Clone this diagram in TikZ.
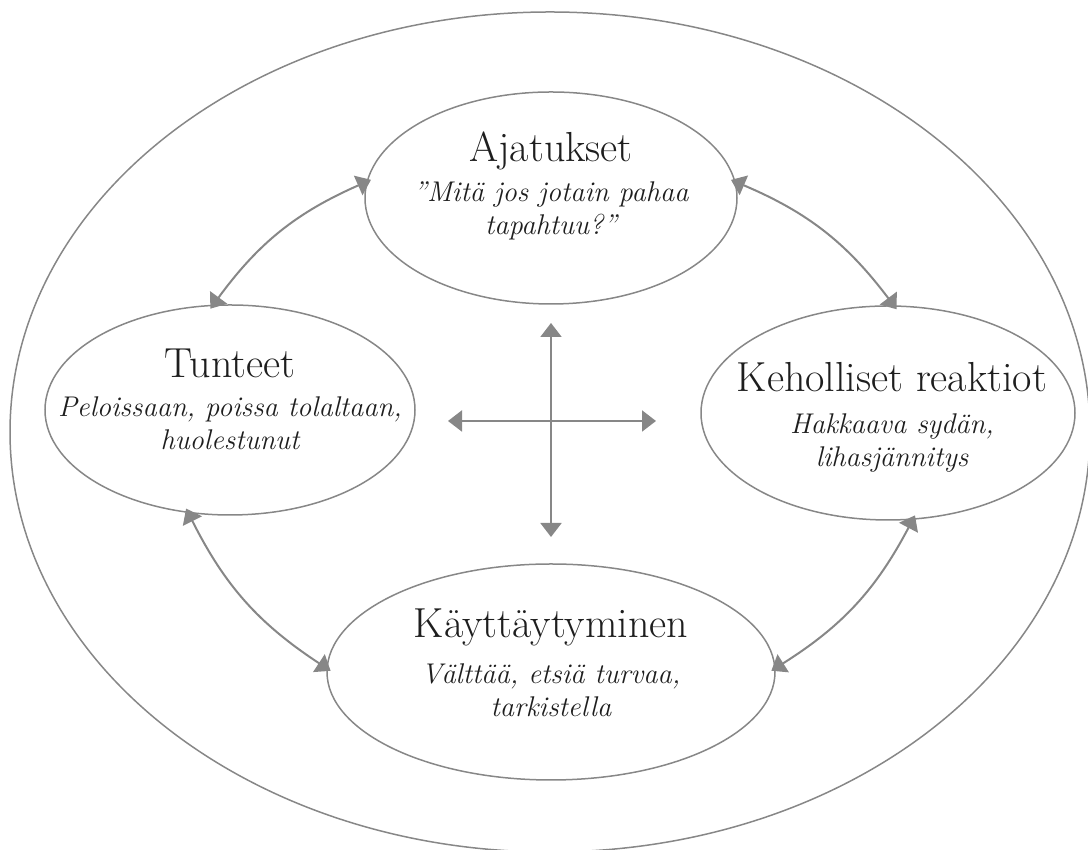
\documentclass[tikz,border=0pt]{standalone}
\usetikzlibrary{arrows.meta,shapes.geometric,positioning}
\definecolor{linegray}{HTML}{878787}
\definecolor{inkdark}{HTML}{1E1E1E}

\tikzset{
  bubble/.style={ellipse,draw=linegray,line width=1.5pt,inner sep=0pt},
  heading/.style={text=inkdark,font=\fontsize{42}{46}\selectfont,anchor=base,inner sep=0pt},
  example/.style={text=inkdark,font=\fontsize{28.5}{33}\selectfont\itshape,align=center,anchor=base,inner sep=0pt},
  link/.style={draw=linegray,line width=2pt,shorten <=-5pt,shorten >=-5pt,
    {Triangle[length=14pt,width=21pt]}-{Triangle[length=14pt,width=21pt]}}
}

\begin{document}
\begin{tikzpicture}[x=1pt,y=1pt]
\useasboundingbox (0,0) rectangle (1088,850);
% ellipses
\node[bubble,minimum width=1080pt,minimum height=840pt] (outer) at (550,418) {};
\node[bubble,minimum width=372pt,minimum height=212pt] (ajatukset) at (551,652) {};
\node[bubble,minimum width=370pt,minimum height=210pt] (tunteet) at (230,440) {};
\node[bubble,minimum width=374pt,minimum height=214pt] (keho) at (888,437) {};
\node[bubble,minimum width=448pt,minimum height=216pt] (kaytos) at (551,178) {};
% texts (base = last line)
\node[heading] (ajatuksetH) at ([yshift=36pt]ajatukset.center) {Ajatukset};
\node[example] (ajatuksetE) at ([yshift=-37pt]ajatukset.center) {”Mitä jos jotain pahaa\\tapahtuu?”};
\node[heading] (tunteetH) at ([yshift=32pt]tunteet.center) {Tunteet};
\node[example] (tunteetE) at ([yshift=-40pt]tunteet.center) {Peloissaan, poissa tolaltaan,\\huolestunut};
\node[heading] (kehoH) at ([xshift=4pt,yshift=21pt]keho.center) {Keholliset reaktiot};
\node[example] (kehoE) at ([xshift=4pt,yshift=-54pt]keho.center) {Hakkaava sydän,\\lihasjännitys};
\node[heading] (kaytosH) at ([yshift=34pt]kaytos.center) {Käyttäytyminen};
\node[example] (kaytosE) at ([yshift=-45pt]kaytos.center) {Välttää, etsiä turvaa,\\tarkistella};
% cross
\coordinate (crossN) at (551,527);
\coordinate (crossS) at (551,313);
\coordinate (crossW) at (448,429);
\coordinate (crossE) at (656,429);
\draw[link,shorten <=0pt,shorten >=0pt] (crossN) -- (crossS);
\draw[link,shorten <=0pt,shorten >=0pt] (crossW) -- (crossE);
% cycle
\draw[link] (tunteet.99) to[bend left=15] (ajatukset.175);
\draw[link] (ajatukset.5) to[bend left=15] (keho.87);
\draw[link] (tunteet.248) to[bend right=15] (kaytos.179);
\draw[link] (keho.283) to[bend left=15] (kaytos.1);
\end{tikzpicture}
\end{document}
